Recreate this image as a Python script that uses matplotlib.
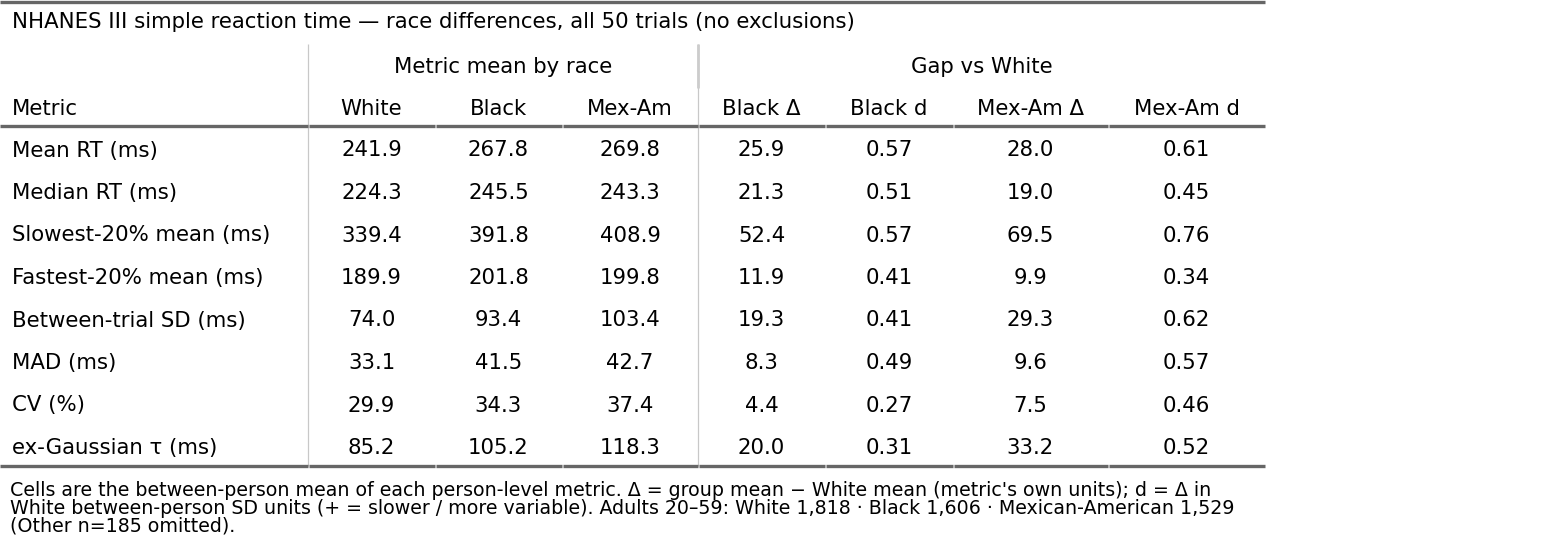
import matplotlib
matplotlib.use("Agg")
import matplotlib.pyplot as plt

title = "NHANES III simple reaction time \u2014 race differences, all 50 trials (no exclusions)"
metrics = ["Mean RT (ms)", "Median RT (ms)", "Slowest-20% mean (ms)", "Fastest-20% mean (ms)",
           "Between-trial SD (ms)", "MAD (ms)", "CV (%)", "ex-Gaussian \u03c4 (ms)"]
white = [241.9, 224.3, 339.4, 189.9, 74.0, 33.1, 29.9, 85.2]
black = [267.8, 245.5, 391.8, 201.8, 93.4, 41.5, 34.3, 105.2]
mexam = [269.8, 243.3, 408.9, 199.8, 103.4, 42.7, 37.4, 118.3]
black_delta = [25.9, 21.3, 52.4, 11.9, 19.3, 8.3, 4.4, 20.0]
black_d = [0.57, 0.51, 0.57, 0.41, 0.41, 0.49, 0.27, 0.31]
mexam_delta = [28.0, 19.0, 69.5, 9.9, 29.3, 9.6, 7.5, 33.2]
mexam_d = [0.61, 0.45, 0.76, 0.34, 0.62, 0.57, 0.46, 0.52]
col_headers = ["Metric", "White", "Black", "Mex-Am", "Black \u0394", "Black d", "Mex-Am \u0394", "Mex-Am d"]
group_headers = ["Metric mean by race", "Gap vs White"]
footnote_lines = [
    "Cells are the between-person mean of each person-level metric. \u0394 = group mean \u2212 White mean (metric's own units); d = \u0394 in",
    "White between-person SD units (+ = slower / more variable). Adults 20\u201359: White 1,818 \u00b7 Black 1,606 \u00b7 Mexican-American 1,529",
    "(Other n=185 omitted).",
]

W, H = 1550, 540
fig = plt.figure(figsize=(W / 100, H / 100), dpi=100)
ax = fig.add_axes([0, 0, 1, 1])
ax.set_xlim(0, W)
ax.set_ylim(H, 0)
ax.axis("off")

FS = 15.3
dark = "#666666"
bounds = [0, 308, 435, 562, 698, 825, 953, 1108, 1265]
centers = [(bounds[i] + bounds[i + 1]) / 2 for i in range(len(bounds) - 1)]

# top rule
ax.plot([0, 1265], [1.5, 1.5], color=dark, lw=2.4, solid_capstyle="butt")
ax.text(12, 22, title, fontsize=FS, va="center", ha="left", color="black")

# group headers
ax.text((bounds[1] + bounds[4]) / 2, 67, group_headers[0], fontsize=FS, ha="center", va="center")
ax.text((bounds[4] + bounds[8]) / 2, 67, group_headers[1], fontsize=FS, ha="center", va="center")

# column headers
ax.text(12, 109, col_headers[0], fontsize=FS, ha="left", va="center")
for i, h in enumerate(col_headers[1:], start=1):
    ax.text(centers[i], 109, h, fontsize=FS, ha="center", va="center")

# vertical separators
ax.plot([308, 308], [44, 466], color="#c8c8c8", lw=0.9, solid_capstyle="butt")
ax.plot([698, 698], [44, 466], color="#c8c8c8", lw=0.9, solid_capstyle="butt")
ax.plot([698, 698], [44, 88], color="#cccccc", lw=2.0, solid_capstyle="butt")

# header rule and bottom rule as per-cell segments
for yy in (126, 466):
    for i in range(len(bounds) - 1):
        ax.plot([bounds[i] + (0.5 if i else 0), bounds[i + 1] - 0.5], [yy, yy], color=dark, lw=2.4,
                solid_capstyle="butt")

row0, step = 150.5, 42.5
cols = [white, black, mexam, black_delta, black_d, mexam_delta, mexam_d]
fmts = ["{:.1f}", "{:.1f}", "{:.1f}", "{:.1f}", "{:.2f}", "{:.1f}", "{:.2f}"]
for r, m in enumerate(metrics):
    y = row0 + r * step
    ax.text(12, y, m, fontsize=FS, ha="left", va="center")
    for j, (col, f) in enumerate(zip(cols, fmts)):
        ax.text(centers[j + 1], y, f.format(col[r]), fontsize=FS, ha="center", va="center")

for k, line in enumerate(footnote_lines):
    ax.text(10, 491 + k * 17.5, line, fontsize=13.65, ha="left", va="center")

fig.savefig("out.png", dpi=100)
